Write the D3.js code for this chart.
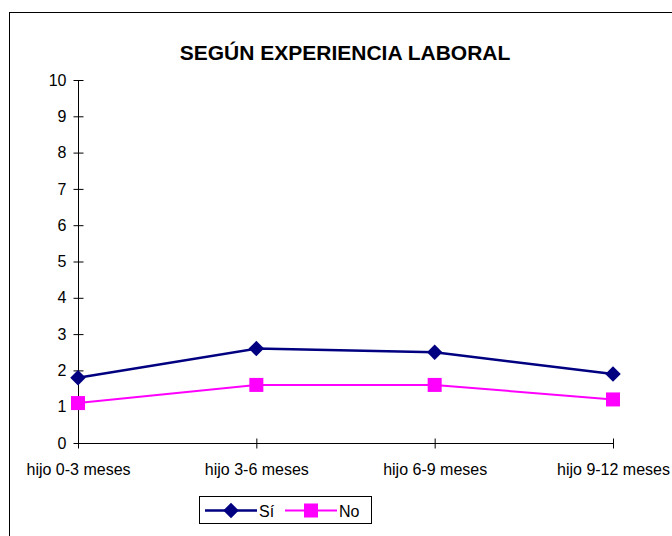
<!DOCTYPE html>
<html><head><meta charset="utf-8">
<script src="https://cdn.jsdelivr.net/npm/d3@7"></script>
<style>body{margin:0;background:#fff}svg{display:block}text{font-family:Arial,"Liberation Sans",sans-serif}</style>
</head><body>
<svg id="c" width="672" height="536"></svg>
<script>
const categories = ["hijo 0-3 meses","hijo 3-6 meses","hijo 6-9 meses","hijo 9-12 meses"];
const siValues = [1.8, 2.6, 2.5, 1.9];
const noValues = [1.1, 1.6, 1.6, 1.2];
const yTicks = [0,1,2,3,4,5,6,7,8,9,10];
const seriesNames = ["Sí","No"];
const titleText = "SEGÚN EXPERIENCIA LABORAL";

const svg = d3.select("#c");
svg.append("rect").attr("x",9.5).attr("y",12.5).attr("width",700).attr("height",600)
  .attr("fill","#fff").attr("stroke","#000").attr("stroke-width",1);

const x = d3.scalePoint().domain(categories).range([78,613]).padding(0);
const y = d3.scaleLinear().domain([0,10]).range([443,80]);

svg.append("text").attr("x",345).attr("y",60).attr("text-anchor","middle")
  .attr("font-size",21).attr("font-weight","bold").text(titleText);

const yAxis = svg.append("g").attr("transform","translate(78.5,0)")
  .call(d3.axisLeft(y).tickValues(yTicks).tickSize(5).tickFormat(d3.format("d")));
yAxis.select(".domain").attr("d","M0,"+y(10)+"V"+y(0));
yAxis.selectAll(".tick line").attr("x1",5).attr("x2",-5);
yAxis.selectAll(".tick text").attr("x",-12).attr("font-size",16).attr("font-family","Arial, Liberation Sans, sans-serif").attr("fill","#000");
yAxis.selectAll("line,path").attr("stroke","#000");

const xAxis = svg.append("g").attr("transform","translate(0,"+(y(0)+0.5)+")")
  .call(d3.axisBottom(x).tickSize(5));
xAxis.select(".domain").attr("d","M78,0H613");
xAxis.selectAll(".tick line").attr("y1",-5).attr("y2",5);
xAxis.selectAll(".tick text").attr("y",20).attr("font-size",16).attr("font-family","Arial, Liberation Sans, sans-serif").attr("fill","#000");
xAxis.selectAll("line,path").attr("stroke","#000");

const line = d3.line().x((d,i)=>x(categories[i])).y(d=>y(d));
svg.append("path").datum(siValues).attr("d",line).attr("fill","none").attr("stroke","#000080").attr("stroke-width",2.5);
svg.append("path").datum(noValues).attr("d",line).attr("fill","none").attr("stroke","#FF00FF").attr("stroke-width",2);

const diamond = d3.symbol().type(d3.symbolSquare).size(120);
svg.selectAll(".si").data(siValues).enter().append("path")
  .attr("d",diamond).attr("fill","#000080")
  .attr("transform",(d,i)=>"translate("+x(categories[i])+","+y(d)+") rotate(45)");
svg.selectAll(".no").data(noValues).enter().append("rect")
  .attr("x",(d,i)=>x(categories[i])-7).attr("y",d=>y(d)-7).attr("width",14).attr("height",14).attr("fill","#FF00FF");

// legend
const lg = svg.append("g");
lg.append("rect").attr("x",199.5).attr("y",496.5).attr("width",172).attr("height",27).attr("fill","#fff").attr("stroke","#000");
const ly = 510.5;
lg.append("line").attr("x1",205).attr("x2",257).attr("y1",ly).attr("y2",ly).attr("stroke","#000080").attr("stroke-width",2.5);
lg.append("path").attr("d",diamond).attr("fill","#000080").attr("transform","translate(231,"+ly+") rotate(45)");
lg.append("text").attr("x",259).attr("y",ly+6).attr("font-size",16).text(seriesNames[0]);
lg.append("line").attr("x1",285).attr("x2",337).attr("y1",ly).attr("y2",ly).attr("stroke","#FF00FF").attr("stroke-width",2);
lg.append("rect").attr("x",304).attr("y",ly-7).attr("width",14).attr("height",14).attr("fill","#FF00FF");
lg.append("text").attr("x",339).attr("y",ly+6).attr("font-size",16).text(seriesNames[1]);
</script>
</body></html>
